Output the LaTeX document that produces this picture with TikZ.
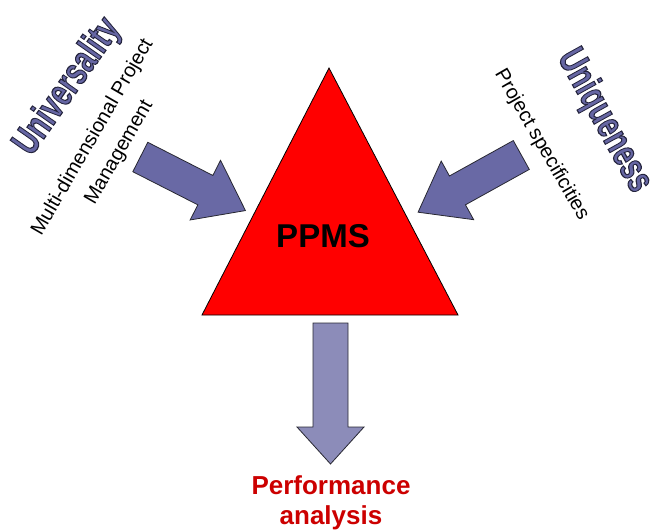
\documentclass[tikz,border=0pt]{standalone}
\usepackage{fontspec}
\usepackage{graphicx}
\setmainfont{Liberation Sans}
\newfontfamily\wordfont[FakeBold=3]{Liberation Sans Bold}
\definecolor{sidefill}{RGB}{105,105,165}
\definecolor{downfill}{RGB}{140,140,185}
\definecolor{edgecol}{RGB}{40,40,50}
\definecolor{perfred}{RGB}{204,0,0}
\newcommand\blockarr[8]{%
  \begin{scope}[shift={(#1,#2)},rotate=#3]
    \filldraw[arrowline,fill=#8] (0,-#5) -- (#4-#7,-#5) -- (#4-#7,-#6) -- (#4,0)
      -- (#4-#7,#6) -- (#4-#7,#5) -- (0,#5) -- cycle;
  \end{scope}}
\newcommand\bigword[1]{\scalebox{0.71}[1]{\fontsize{39}{42}\wordfont\special{pdf:bcolor [0.40 0.40 0.64] [0.14 0.14 0.24]}#1\special{pdf:ecolor}}}
\begin{document}
\begin{tikzpicture}[x=1pt,y=-1pt,
  arrowline/.style={draw=edgecol,line width=0.8pt,line join=miter},
  subtext/.style={font=\fontsize{20}{30.5}\selectfont,align=center,inner sep=0pt},
  wordtext/.style={inner sep=0pt}]
\useasboundingbox (0,0) rectangle (659,532);
% triangle
\coordinate (apex) at (329,68);
\coordinate (bl) at (202,315);
\coordinate (br) at (458,315);
\filldraw[fill=red,draw=black,line width=0.8pt] (apex) -- (br) -- (bl) -- cycle;
\node[font=\fontsize{33}{38}\selectfont\bfseries,inner sep=0pt] (ppms) at (323,236) {PPMS};
% arrows
\blockarr{140.3}{157}{-27}{118}{16.5}{33.5}{45}{sidefill}
\blockarr{521.3}{155}{-151}{118}{16.5}{33.5}{45}{sidefill}
\blockarr{330.5}{323}{-90}{141}{17.5}{33.5}{37}{downfill}
% texts
\node[wordtext,rotate=55] (univ) at (68,87) {\bigword{Universality}};
\node[subtext,rotate=60] (multi) at (106,145) {Multi-dimensional Project\\Management};
\node[wordtext,rotate=-61] (uniq) at (604,121) {\bigword{Uniqueness}};
\node[subtext,rotate=-60] (spec) at (541.5,145) {Project specificities};
\node[font=\fontsize{26}{30}\selectfont\bfseries,text=perfred,align=center,inner sep=0pt] (perf) at (331,503) {Performance\\analysis};
\end{tikzpicture}
\end{document}
